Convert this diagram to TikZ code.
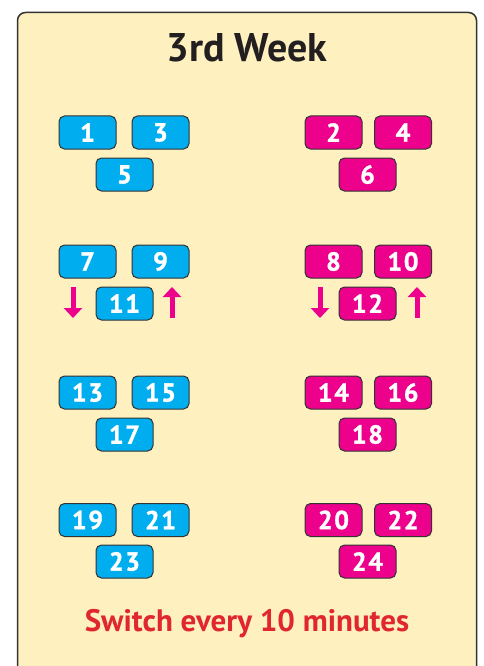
\documentclass[tikz,border=0pt]{standalone}
\usepackage{fontspec}
\setmainfont{PT Sans}
\newfontfamily\numfont{PT Sans Bold}[LetterSpace=6,FakeBold=1.2]
\newfontfamily\headfont{PT Sans Bold}
\usetikzlibrary{arrows.meta}
\definecolor{panelbg}{HTML}{FEF0BF}
\definecolor{panelline}{HTML}{333333}
\definecolor{cblue}{HTML}{00AEEF}
\definecolor{cmag}{HTML}{EC008C}
\definecolor{cred}{HTML}{E0262E}
\definecolor{titlecol}{HTML}{231F20}
\tikzset{
  numbox/.style={draw=panelline, line width=1pt, rounded corners=5.5pt, minimum width=57pt, minimum height=33pt, inner sep=0pt, text=white, font=\numfont\fontsize{26}{26}\selectfont},
  bluebox/.style={numbox, fill=cblue},
  magbox/.style={numbox, fill=cmag},
  swaparrow/.style={draw=cmag, line width=5pt, -{Triangle[width=18pt,length=10pt]}}
}
\begin{document}
\begin{tikzpicture}[x=1pt,y=-1pt]
\useasboundingbox (0,0) rectangle (483,666);
\clip (0,0) rectangle (483,666);
\draw[fill=panelbg, draw=panelline, line width=1.5pt, rounded corners=8pt] (17.5,12.5) rectangle (476.5,700);
\node[font=\headfont\fontsize{40}{40}\selectfont, text=titlecol] (title) at (247,48) {3rd Week};
% row 1
\node[bluebox] (b1) at (87.5,132.5) {1};
\node[bluebox] (b3) at (160.5,132.5) {3};
\node[bluebox] (b5) at (124.5,174.5) {5};
\node[magbox] (m2) at (333.5,132.5) {2};
\node[magbox] (m4) at (403,132.5) {4};
\node[magbox] (m6) at (367.5,174.5) {6};
% row 2
\node[bluebox] (b7) at (87.5,261.5) {7};
\node[bluebox] (b9) at (160.5,261.5) {9};
\node[bluebox] (b11) at (124.5,303.5) {11};
\node[magbox] (m8) at (333.5,261.5) {8};
\node[magbox] (m10) at (403,261.5) {10};
\node[magbox] (m12) at (367.5,303.5) {12};
\coordinate (ld1) at (73,287);
\coordinate (ld2) at (73,318);
\coordinate (lu1) at (172,318);
\coordinate (lu2) at (172,287);
\coordinate (rd1) at (320,287);
\coordinate (rd2) at (320,318);
\coordinate (ru1) at (417,318);
\coordinate (ru2) at (417,287);
\draw[swaparrow] (ld1) -- (ld2);
\draw[swaparrow] (lu1) -- (lu2);
\draw[swaparrow] (rd1) -- (rd2);
\draw[swaparrow] (ru1) -- (ru2);
% row 3
\node[bluebox] (b13) at (87.5,392.5) {13};
\node[bluebox] (b15) at (160.5,392.5) {15};
\node[bluebox] (b17) at (124.5,434.5) {17};
\node[magbox] (m14) at (333.5,392.5) {14};
\node[magbox] (m16) at (403,392.5) {16};
\node[magbox] (m18) at (367.5,434.5) {18};
% row 4
\node[bluebox] (b19) at (87.5,520) {19};
\node[bluebox] (b21) at (160.5,520) {21};
\node[bluebox] (b23) at (124.5,561.5) {23};
\node[magbox] (m20) at (333.5,520) {20};
\node[magbox] (m22) at (403,520) {22};
\node[magbox] (m24) at (367.5,561.5) {24};
\node[font=\headfont\fontsize{31}{31}\selectfont, text=cred] (note) at (247,624) {Switch every 10 minutes};
\end{tikzpicture}
\end{document}
